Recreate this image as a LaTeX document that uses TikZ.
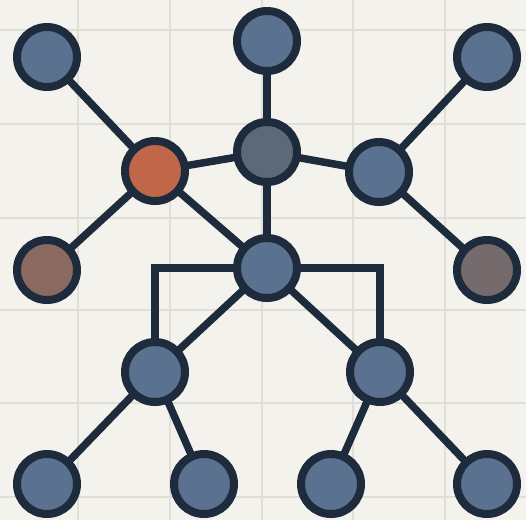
\documentclass[tikz,border=0pt]{standalone}
\definecolor{bg}{HTML}{F3F2ED}
\definecolor{gridc}{HTML}{DFDED7}
\definecolor{edgec}{HTML}{1E2B3C}
\definecolor{blu}{HTML}{5A7190}
\definecolor{gry}{HTML}{5E6977}
\definecolor{org}{HTML}{C0674A}
\definecolor{brn}{HTML}{8A6A60}
\definecolor{gbr}{HTML}{766B6C}
\tikzset{
  nd/.style={circle, draw=edgec, line width=8pt, fill=blu, minimum size=60pt, inner sep=0pt},
  link/.style={draw=edgec, line width=7.5pt},
  gridline/.style={draw=gridc, line width=1.8pt}
}
\begin{document}
\begin{tikzpicture}[x=1pt,y=-1pt]
\fill[bg] (0,0) rectangle (526,520);
\useasboundingbox (0,0) rectangle (526,520);
\foreach \gx in {78,170,262,353,445} \draw[gridline] (\gx,0) -- (\gx,520);
\foreach \gy in {30,124,218,310,403,497} \draw[gridline] (0,\gy) -- (526,\gy);
% node positions
\coordinate (ptl) at (47,57);
\coordinate (pt) at (267,41);
\coordinate (ptr) at (487,57);
\coordinate (po) at (155,171);
\coordinate (pct) at (267,152);
\coordinate (prm) at (379,172);
\coordinate (plb) at (47,270);
\coordinate (prb) at (487,270);
\coordinate (pc) at (267,268);
\coordinate (pll) at (155,372);
\coordinate (plr) at (380,372);
\coordinate (pb1) at (47,484);
\coordinate (pb2) at (204,484);
\coordinate (pb3) at (331,484);
\coordinate (pb4) at (487,484);
% connectors
\draw[link] (ptl) -- (po);
\draw[link] (po) -- (pct);
\draw[link] (po) -- (plb);
\draw[link] (po) -- (pc);
\draw[link] (pt) -- (pct);
\draw[link] (pct) -- (prm);
\draw[link] (pct) -- (pc);
\draw[link] (prm) -- (ptr);
\draw[link] (prm) -- (prb);
\draw[link] (pc) -- (pll);
\draw[link] (pc) -- (plr);
\draw[link, line join=miter] (pc) -- (pc -| pll) -- (pll);
\draw[link, line join=miter] (pc) -- (pc -| plr) -- (plr);
\draw[link] (pll) -- (pb1);
\draw[link] (pll) -- (pb2);
\draw[link] (plr) -- (pb3);
\draw[link] (plr) -- (pb4);
% nodes
\node[nd] (tl) at (ptl) {};
\node[nd] (t) at (pt) {};
\node[nd] (tr) at (ptr) {};
\node[nd, fill=org] (o) at (po) {};
\node[nd, fill=gry] (ct) at (pct) {};
\node[nd] (rm) at (prm) {};
\node[nd, fill=brn] (lb) at (plb) {};
\node[nd, fill=gbr] (rb) at (prb) {};
\node[nd] (c) at (pc) {};
\node[nd] (ll) at (pll) {};
\node[nd] (lr) at (plr) {};
\node[nd] (b1) at (pb1) {};
\node[nd] (b2) at (pb2) {};
\node[nd] (b3) at (pb3) {};
\node[nd] (b4) at (pb4) {};
\end{tikzpicture}
\end{document}
